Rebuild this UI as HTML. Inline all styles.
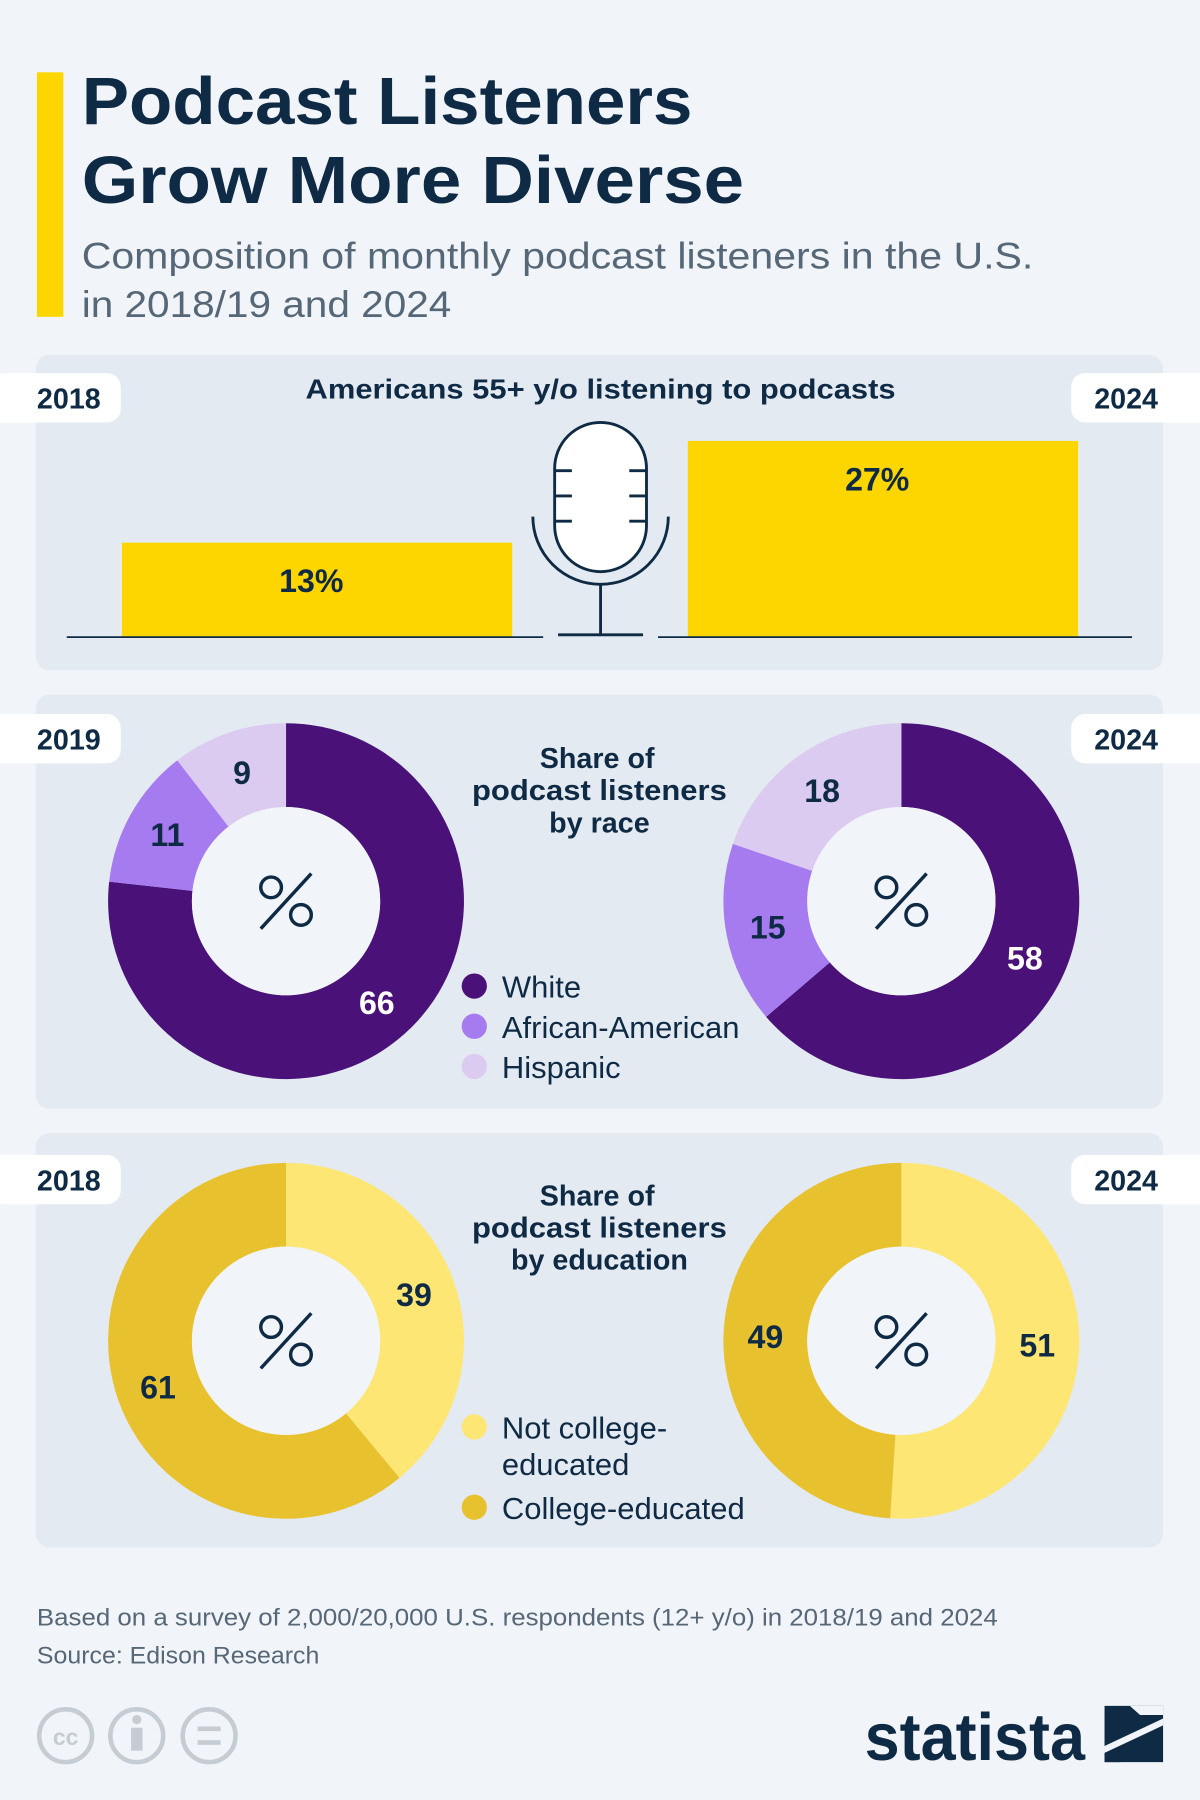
<!DOCTYPE html>
<html><head><meta charset="utf-8"><style>
html,body{margin:0;padding:0;background:#f1f5f9;}
svg{display:block;font-family:"Liberation Sans","DejaVu Sans",sans-serif;}
</style></head><body>
<svg id="chart" width="1200" height="1800" viewBox="0 0 1045 1568" xmlns="http://www.w3.org/2000/svg">
<rect width="1045" height="1568" fill="#f1f5f9"/>
<rect x="32" y="63" width="23" height="213" fill="#fdd600"/>
<text x="71" y="108" font-size="58" font-weight="bold" fill="#0f2a44" textLength="532" lengthAdjust="spacingAndGlyphs">Podcast Listeners</text>
<text x="71" y="177" font-size="58" font-weight="bold" fill="#0f2a44" textLength="577" lengthAdjust="spacingAndGlyphs">Grow More Diverse</text>
<text x="71" y="234" font-size="32" fill="#566778" textLength="829" lengthAdjust="spacingAndGlyphs">Composition of monthly podcast listeners in the U.S.</text>
<text x="71" y="276" font-size="32" fill="#566778" textLength="322" lengthAdjust="spacingAndGlyphs">in 2018/19 and 2024</text>

<rect x="31" y="309" width="982" height="275" rx="12" fill="#e4eaf1"/>
<rect x="31" y="605" width="982" height="361" rx="12" fill="#e4eaf1"/>
<rect x="31" y="987" width="982" height="361" rx="12" fill="#e4eaf1"/>

<g id="pills"></g>
<text x="523" y="347" font-size="24" font-weight="bold" fill="#0f2a44" text-anchor="middle" textLength="514" lengthAdjust="spacingAndGlyphs">Americans 55+ y/o listening to podcasts</text>
<g id="bars"></g>
<line x1="58" y1="555" x2="473" y2="555" stroke="#0f2a44" stroke-width="1.5"/>
<line x1="573" y1="555" x2="986" y2="555" stroke="#0f2a44" stroke-width="1.5"/>
<g fill="none" stroke="#0f2a44" stroke-width="2.5">
<rect x="483" y="368" width="80" height="130" rx="40" fill="#fff"/>
<path d="M464 450 a59 59 0 0 0 118 0"/>
<line x1="523" y1="509" x2="523" y2="553"/>
<line x1="486" y1="553" x2="560" y2="553"/>
<line x1="483" y1="410" x2="498" y2="410"/><line x1="483" y1="432" x2="498" y2="432"/><line x1="483" y1="454" x2="498" y2="454"/>
<line x1="548" y1="410" x2="563" y2="410"/><line x1="548" y1="432" x2="563" y2="432"/><line x1="548" y1="454" x2="563" y2="454"/>
</g>

<g font-size="25" font-weight="bold" fill="#0f2a44" text-anchor="middle">
<text x="520" y="669">Share of</text><text x="522" y="697" textLength="222" lengthAdjust="spacingAndGlyphs">podcast listeners</text><text x="522" y="725">by race</text></g>
<g font-size="25" font-weight="bold" fill="#0f2a44" text-anchor="middle">
<text x="520" y="1050">Share of</text><text x="522" y="1078" textLength="222" lengthAdjust="spacingAndGlyphs">podcast listeners</text><text x="522" y="1106">by education</text></g>
<g id="donuts"></g>
<g id="legends"></g>

<text x="32" y="1416" font-size="21" fill="#566778" textLength="837" lengthAdjust="spacingAndGlyphs">Based on a survey of 2,000/20,000 U.S. respondents (12+ y/o) in  2018/19 and 2024</text>
<text x="32" y="1449" font-size="21" fill="#566778" textLength="246" lengthAdjust="spacingAndGlyphs">Source: Edison Research</text>
<g fill="none" stroke="#c5ccd4" stroke-width="4">
<circle cx="57" cy="1512" r="23"/><circle cx="119" cy="1512" r="23"/><circle cx="182" cy="1512" r="23"/>
<text x="57" y="1520" font-size="20" font-weight="bold" fill="#c5ccd4" stroke="none" text-anchor="middle">cc</text>
<circle cx="119" cy="1498" r="4" fill="#c5ccd4" stroke="none"/><rect x="114" y="1505" width="10" height="20" fill="#c5ccd4" stroke="none"/>
<line x1="172" y1="1506" x2="192" y2="1506"/><line x1="172" y1="1518" x2="192" y2="1518"/>
</g>
<text x="753" y="1533" font-size="58" font-weight="bold" fill="#0f2a44" textLength="192" lengthAdjust="spacingAndGlyphs">statista</text>
<g>
<rect x="962" y="1486" width="51" height="49" fill="#0f2a44"/>
<path d="M962 1521 L1013 1497 L1013 1503 L962 1527 Z" fill="#f1f5f9"/>
<path d="M984 1486 h29 v8 h-20 z" fill="#f1f5f9"/>
<path d="M962 1528 h22 l-8 7 h-14 z" fill="#0f2a44"/>
</g>

<script>
const ns="http://www.w3.org/2000/svg";
const ageYears=["2018","2024"];
const ageValues=[13,27];
const raceCategories=["White","African-American","Hispanic"];
const race2019=[66,11,9];
const race2024=[58,15,18];
const eduCategories=["Not college-educated","College-educated"];
const edu2018=[39,61];
const edu2024=[51,49];
const pillLabels=[["2018","2024"],["2019","2024"],["2018","2024"]];
function mk(tag,attrs,parent){const e=document.createElementNS(ns,tag);for(const k in attrs)e.setAttribute(k,attrs[k]);parent.appendChild(e);return e;}
const pills=document.getElementById('pills');
const pillY=[325,622,1006];
pillLabels.forEach((p,i)=>{
 const l=mk('rect',{x:-10,y:pillY[i],width:115,height:43,rx:12,fill:'#fff'},pills);
 
 
 const t=mk('text',{x:32,y:pillY[i]+31,'font-size':25,'font-weight':'bold',fill:'#0f2a44'},pills);t.textContent=p[0];
 
 
 const r=mk('rect',{x:933,y:pillY[i],width:125,height:43,rx:12,fill:'#fff'},pills);
 
 
 const t2=mk('text',{x:953,y:pillY[i]+31,'font-size':25,'font-weight':'bold',fill:'#0f2a44'},pills);t2.textContent=p[1];
 
 
});
const bars=document.getElementById('bars');
const base=555,scale=6.33,barX=[106,599],barW=340;
ageValues.forEach((v,i)=>{
 const h=v*scale;
 const b=mk('rect',{x:barX[i],y:base-h,width:barW,height:h,fill:'#fdd600'},bars);
 
 
 const t=mk('text',{x:barX[i]+barW/2-5,y:base-h+43,'font-size':28,'font-weight':'bold',fill:'#0f2a44','text-anchor':'middle'},bars);
 t.textContent=v+'%';
 
 
});
const donuts=document.getElementById('donuts');
const R=155,r=82;
function pt(cx,cy,rad,f){const a=f*2*Math.PI;return [cx+rad*Math.sin(a),cy-rad*Math.cos(a)];}
function donut(cx,cy,vals,colors,labelColors,name){
 const tot=vals.reduce((a,b)=>a+b,0);let acc=0;
 vals.forEach((v,i)=>{
  const f0=acc/tot,f1=(acc+v)/tot;acc+=v;
  const large=(f1-f0)>0.5?1:0;
  const [x0,y0]=pt(cx,cy,R,f0),[x1,y1]=pt(cx,cy,R,f1),[x2,y2]=pt(cx,cy,r,f1),[x3,y3]=pt(cx,cy,r,f0);
  const p=mk('path',{d:`M${x0} ${y0} A${R} ${R} 0 ${large} 1 ${x1} ${y1} L${x2} ${y2} A${r} ${r} 0 ${large} 0 ${x3} ${y3} Z`,fill:colors[i]},donuts);
  
  
  const [lx,ly]=pt(cx,cy,(R+r)/2,(f0+f1)/2);
  const t=mk('text',{x:lx,y:ly+10,'font-size':28,'font-weight':'bold',fill:labelColors[i],'text-anchor':'middle'},donuts);
  t.textContent=v;
  
  
 });
 const c=mk('circle',{cx:cx,cy:cy,r:r,fill:'#f1f5f9'},donuts);
 
 
 const g=mk('g',{fill:'none',stroke:'#0f2a44','stroke-width':3},donuts);
 
 
 mk('circle',{cx:cx-13,cy:cy-12,r:9},g);
 mk('circle',{cx:cx+13,cy:cy+12,r:9},g);
 mk('line',{x1:cx-22,y1:cy+24,x2:cx+22,y2:cy-24},g);
}
const raceColors=['#4a1278','#a77bf0','#dccbf0'];
const raceLabel=['#fff','#0f2a44','#0f2a44'];
const eduColors=['#fde674','#e8c22e'];
const eduLabel=['#0f2a44','#0f2a44'];
donut(249,785,race2019,raceColors,raceLabel,'race-2019');
donut(785,785,race2024,raceColors,raceLabel,'race-2024');
donut(249,1168,edu2018,eduColors,eduLabel,'edu-2018');
donut(785,1168,edu2024,eduColors,eduLabel,'edu-2024');
const lg=document.getElementById('legends');
const raceLY=[859,894,929];
raceCategories.forEach((c,i)=>{
 const d=mk('circle',{cx:413,cy:raceLY[i],r:11,fill:raceColors[i]},lg);
 
 
 const t=mk('text',{x:437,y:raceLY[i]+10,'font-size':27,fill:'#0f2a44'},lg);t.textContent=c;
 
 
});
const eduLines=[["Not college-","educated"],["College-educated"]];
const eduLY=[1243,1313];
eduCategories.forEach((c,i)=>{
 const d=mk('circle',{cx:413,cy:eduLY[i],r:11,fill:eduColors[i]},lg);
 
 
 eduLines[i].forEach((ln,j)=>{
  const t=mk('text',{x:437,y:eduLY[i]+10+j*32,'font-size':27,fill:'#0f2a44'},lg);t.textContent=ln;
  
  
 });
});
</script>
</svg>
</body></html>
